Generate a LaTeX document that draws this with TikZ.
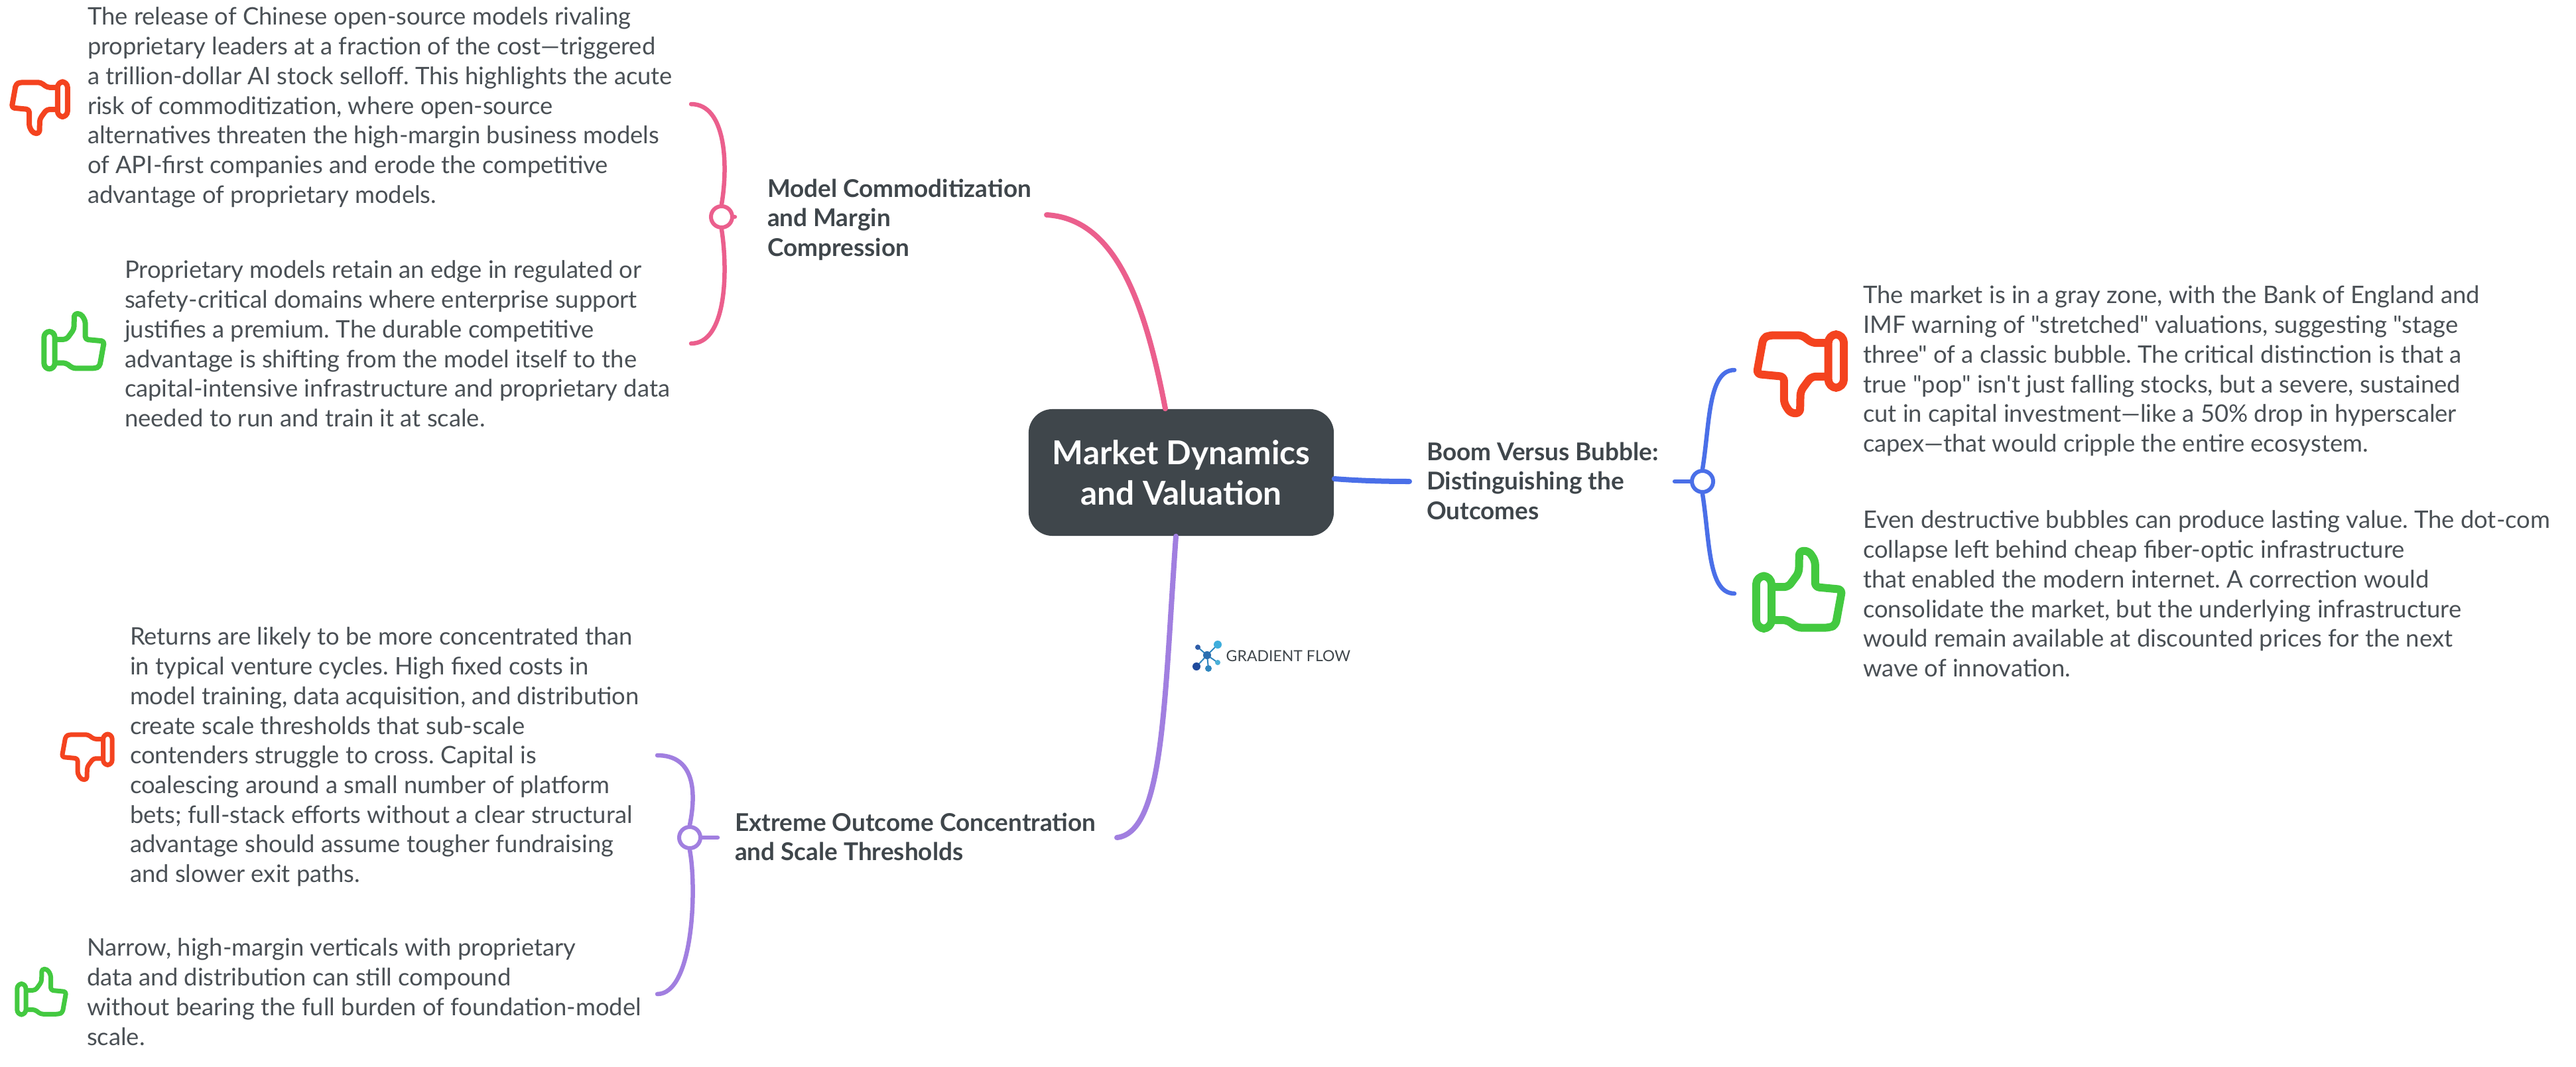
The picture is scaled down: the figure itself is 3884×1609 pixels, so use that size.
\documentclass[tikz,border=0pt]{standalone}
\usepackage{fontspec}
\setmainfont{Lato}
\newfontfamily\plainlato{Lato}
\definecolor{ink}{HTML}{4A5055}
\definecolor{dark}{HTML}{3F464B}
\definecolor{pinkb}{HTML}{EB5F8D}
\definecolor{blueb}{HTML}{4A6FE8}
\definecolor{purpb}{HTML}{A17FE0}
\definecolor{redt}{HTML}{F4431F}
\definecolor{greent}{HTML}{43C940}
\definecolor{logoa}{HTML}{2A6FB0}
\definecolor{logob}{HTML}{2F5DA8}
\definecolor{logoc}{HTML}{3FAEDC}
\definecolor{logod}{HTML}{4AB0D8}
\definecolor{logoe}{HTML}{2F86BE}
\definecolor{logof}{HTML}{1F4A9C}
\newcommand{\fstrut}{\rule{0pt}{7pt}}
\newcommand{\thumbpath}[1]{%
  \draw[rounded corners=#1*0.15pt] (0.80,0.14) -- (0.63,0.14) -- (0.52,0.05) -- (0.18,0.05) -- (0.11,0.08) -- (0.04,0.50) -- (0.33,0.53) -- (0.33,0.84) -- (0.40,0.955) -- (0.50,0.955) -- (0.505,0.70) -- (0.62,0.53) -- (0.80,0.53);
  \draw[rounded corners=#1*0.3pt] (0.80,0.04) rectangle (0.965,0.66);}
\newcommand{\thumbdown}[6]{%
 \begin{scope}[shift={(#1,#2)},x={({(#3-#1)*0.01cm},0)},y={(0,{(#4-#2)*-0.01cm})},line width=#6*0.01cm,draw=#5,line join=round]
  \thumbpath{#6}
 \end{scope}}
\newcommand{\thumbup}[6]{%
 \begin{scope}[shift={(#3,#4)},x={({(#1-#3)*0.01cm},0)},y={(0,{(#2-#4)*-0.01cm})},line width=#6*0.01cm,draw=#5,line join=round]
  \thumbpath{#6}
 \end{scope}}
\tikzset{
 x=0.01cm,y=-0.01cm,
 body/.style={anchor=north west,inner sep=0pt,outer sep=0pt,align=left,text=ink,
   execute at begin node={\plainlato\frenchspacing\fontsize{10.35pt}{12.72pt}\selectfont\fstrut}},
 topic/.style={anchor=north west,inner sep=0pt,outer sep=0pt,align=left,text=dark,
   execute at begin node={\fontsize{10.5pt}{12.6pt}\bfseries\selectfont\fstrut}},
 central/.style={rounded corners=0.36cm,fill=dark,text=white,align=center,inner sep=0pt,minimum width=4.6cm,minimum height=1.91cm,
   execute at begin node={\fontsize{14.1pt}{17.3pt}\bfseries\selectfont}},
 ring/.style={circle,draw=#1,fill=white,line width=0.06cm,minimum size=0.32cm,inner sep=0pt},
 trunk/.style={draw=#1,line width=0.08cm,line cap=round},
 brace/.style={draw=#1,line width=0.065cm,line cap=round},
 logodot/.style={circle,fill=#1,inner sep=0pt,outer sep=0pt},
 logoline/.style={draw=#1,line width=0.02cm},
}
\begin{document}
\begin{tikzpicture}
\useasboundingbox (0,0) rectangle (3884,1609);
\fill[white] (0,0) rectangle (3884,1609);
% centre
\node[central] (root) at (1781,712.5) {Market Dynamics\\and Valuation};
% free ends
\coordinate (pinkEnd) at (1578,324);
\coordinate (blueEnd) at (2125,726);
\coordinate (purpEnd) at (1684,1263);
\coordinate (pt) at (1042,157);
\coordinate (pb) at (1042,518);
\coordinate (bt) at (2615,558);
\coordinate (bb) at (2615,895);
\coordinate (ut) at (991,1139);
\coordinate (ub) at (991,1499);
\coordinate (pStub) at (1108,327);
\coordinate (bStub) at (2525,726);
\coordinate (uStub) at (1082,1263);
% rings
\node[ring=pinkb] (pr) at (1088,327) {};
\node[ring=blueb] (br) at (2567,726) {};
\node[ring=purpb] (ur) at (1040,1263) {};
% trunks
\draw[trunk=pinkb] (root.north -| 1757,617) .. controls (1725,450) and (1680,330) .. (pinkEnd);
\draw[trunk=blueb] (root.east |- 0,722) .. controls (2050,725) and (2090,726) .. (blueEnd);
\draw[trunk=purpb] (root.south -| 1773,808) .. controls (1755,1060) and (1755,1255) .. (purpEnd);
% braces
\draw[brace=pinkb] (pr.east) -- (pStub);
\draw[brace=pinkb] (pr.north) .. controls (1098,250) and (1095,157) .. (pt);
\draw[brace=pinkb] (pr.south) .. controls (1098,410) and (1095,518) .. (pb);
\draw[brace=blueb] (br.west) -- (bStub);
\draw[brace=blueb] (br.north) .. controls (2578,640) and (2575,558) .. (bt);
\draw[brace=blueb] (br.south) .. controls (2578,815) and (2575,895) .. (bb);
\draw[brace=purpb] (ur.east) -- (uStub);
\draw[brace=purpb] (ur.north) .. controls (1051,1190) and (1045,1139) .. (ut);
\draw[brace=purpb] (ur.south) .. controls (1051,1340) and (1045,1499) .. (ub);
% topic labels
\node[topic] (t1) at (1157,270) {Model Commoditization\\and Margin\\Compression};
\node[topic] (t2) at (2151,667) {Boom Versus Bubble:\\Distinguishing the\\Outcomes};
\node[topic] (t3) at (1108,1226) {Extreme Outcome Concentration\\and Scale Thresholds};
% body text
\node[body] (a1) at (132,11) {The release of Chinese open-source models rivaling\\proprietary leaders at a fraction of the cost—triggered\\a trillion-dollar AI stock selloff. This highlights the acute\\risk of commoditization, where open-source\\alternatives threaten the high-margin business models\\of API-first companies and erode the competitive\\advantage of proprietary models.};
\node[body] (a2) at (188,393) {Proprietary models retain an edge in regulated or\\safety-critical domains where enterprise support\\justifies a premium. The durable competitive\\advantage is shifting from the model itself to the\\capital-intensive infrastructure and proprietary data\\needed to run and train it at scale.};
\node[body] (b1) at (2809,431) {The market is in a gray zone, with the Bank of England and\\IMF warning of "stretched" valuations, suggesting "stage\\three" of a classic bubble. The critical distinction is that a\\true "pop" isn't just falling stocks, but a severe, sustained\\cut in capital investment—like a 50\% drop in hyperscaler\\capex—that would cripple the entire ecosystem.};
\node[body] (b2) at (2809,770) {Even destructive bubbles can produce lasting value. The dot-com\\collapse left behind cheap fiber-optic infrastructure\\that enabled the modern internet. A correction would\\consolidate the market, but the underlying infrastructure\\would remain available at discounted prices for the next\\wave of innovation.};
\node[body] (c1) at (196,946) {Returns are likely to be more concentrated than\\in typical venture cycles. High fixed costs in\\model training, data acquisition, and distribution\\create scale thresholds that sub-scale\\contenders struggle to cross. Capital is\\coalescing around a small number of platform\\bets; full-stack efforts without a clear structural\\advantage should assume tougher fundraising\\and slower exit paths.};
\node[body] (c2) at (131,1415) {Narrow, high-margin verticals with proprietary\\data and distribution can still compound\\without bearing the full burden of foundation-model\\scale.};
% thumbs
\thumbdown{14}{120}{105}{205}{redt}{8}
\thumbup{63}{469}{161}{560}{greent}{8}
\thumbdown{2643}{499}{2785}{629}{redt}{12}
\thumbup{2643}{825}{2783}{953}{greent}{12}
\thumbdown{90}{1104}{172}{1179}{redt}{7}
\thumbup{23}{1458}{103}{1533}{greent}{7}
% logo
\foreach \p/\q in {1806/976,1836/972,1836/999,1822/1008,1804/1005} \draw[logoline=logoe] (1820,988) -- (\p,\q);
\node[logodot=logoa, minimum size=0.12cm] (l0) at (1820,988) {};
\node[logodot=logob, minimum size=0.08cm] (l1) at (1806,976) {};
\node[logodot=logoc, minimum size=0.12cm] (l2) at (1836,972) {};
\node[logodot=logod, minimum size=0.08cm] (l3) at (1836,999) {};
\node[logodot=logoe, minimum size=0.1cm] (l4) at (1822,1008) {};
\node[logodot=logof, minimum size=0.12cm] (l5) at (1804,1005) {};
\node[anchor=west,inner sep=0pt,text=dark,font=\fontsize{6.55pt}{7pt}\selectfont] (lt) at (1848,989) {GRADIENT FLOW};
\end{tikzpicture}
\end{document}
